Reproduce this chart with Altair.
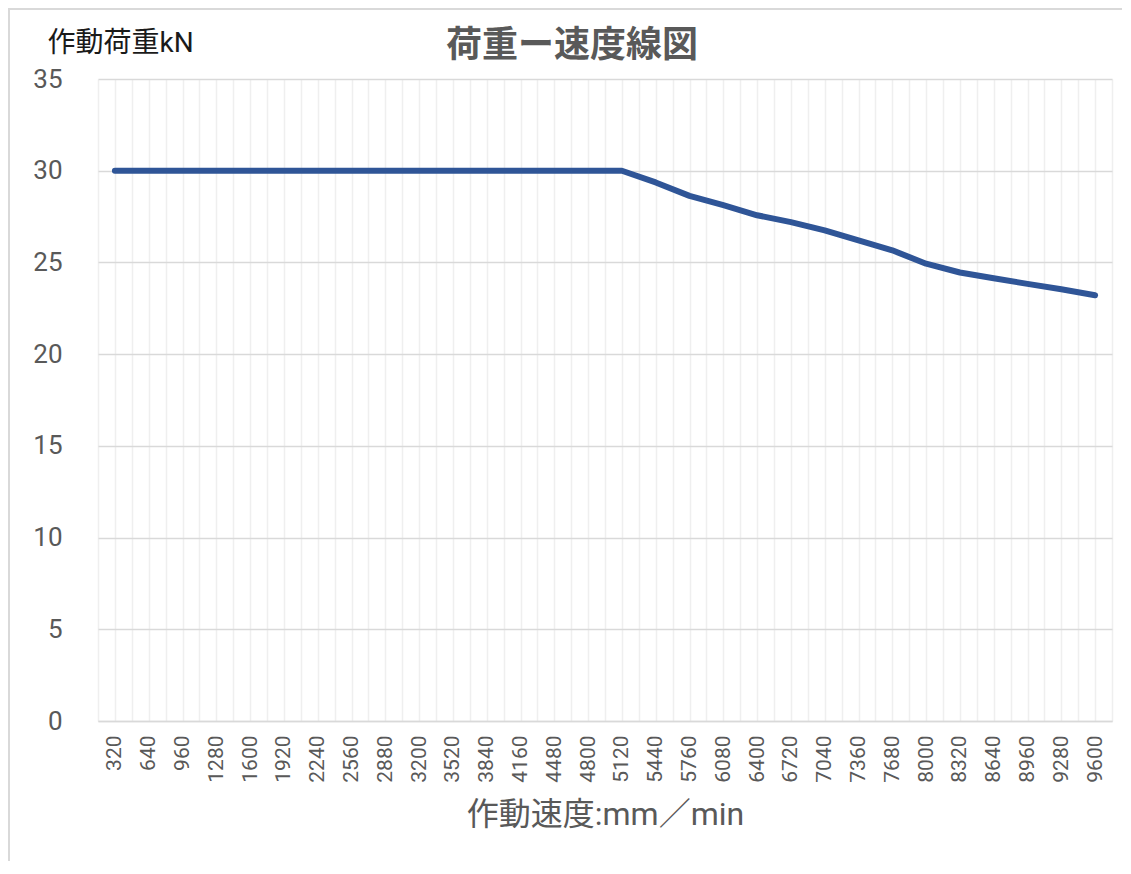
import altair as alt
import pandas as pd

# 作動速度 (mm/min) categories
speeds = [320, 640, 960, 1280, 1600, 1920, 2240, 2560, 2880, 3200,
          3520, 3840, 4160, 4480, 4800, 5120, 5440, 5760, 6080, 6400,
          6720, 7040, 7360, 7680, 8000, 8320, 8640, 8960, 9280, 9600]
# 作動荷重 (kN)
loads = [30, 30, 30, 30, 30, 30, 30, 30, 30, 30,
         30, 30, 30, 30, 30, 30, 29.36, 28.63, 28.12, 27.57,
         27.2, 26.75, 26.2, 25.66, 24.93, 24.45, 24.14, 23.83, 23.54, 23.21]
y_ticks = [0, 5, 10, 15, 20, 25, 30, 35]
chart_title = "荷重ー速度線図"

df = pd.DataFrame({"speed": speeds, "load": loads})

step = speeds[1] - speeds[0]
x_min = speeds[0] - step / 2
x_max = speeds[-1] + step / 2
grid_vals = [x_min + step / 2 * k for k in range(0, 2 * len(speeds) + 1)]

FONT = "Roboto, 'Noto Sans CJK JP', sans-serif"
W, H = 1014, 642
PAD = {"left": 90, "top": 71, "right": 10, "bottom": 140}

line = alt.Chart(df).mark_line(
    color="#2F5597", strokeWidth=6, strokeCap="round", strokeJoin="round"
).encode(
    x=alt.X(
        "speed:Q",
        scale=alt.Scale(domain=[x_min, x_max], nice=False, zero=False),
        axis=alt.Axis(
            values=grid_vals,
            format="d",
            labelExpr="datum.value % 320 === 0 ? datum.label : ''",
            labelAngle=270,
            labelFontSize=21,
            labelColor="#595959",
            labelFont=FONT,
            labelPadding=14,
            labelOverlap=False,
            labelFlush=False,
            labelBound=False,
            ticks=False,
            domain=True,
            domainColor="#d9d9d9",
            domainWidth=1.5,
            grid=True,
            gridColor="#efefef",
            gridWidth=1.5,
            title="作動速度:mm／min",
            titleFontSize=32,
            titleFontWeight="normal",
            titleColor="#595959",
            titleFont=FONT,
            titleX=W / 2,
            titleY=93,
            titleBaseline="middle",
            titleAlign="center",
        ),
    ),
    y=alt.Y(
        "load:Q",
        scale=alt.Scale(domain=[0, 35], nice=False),
        axis=alt.Axis(
            values=y_ticks,
            labelFontSize=26,
            labelColor="#595959",
            labelFont=FONT,
            labelPadding=36,
            ticks=False,
            domain=False,
            grid=True,
            gridColor="#d9d9d9",
            gridWidth=1.5,
            title="作動荷重kN",
            titleAngle=0,
            titleFontSize=28,
            titleFontWeight="normal",
            titleColor="#1a1a1a",
            titleFont=FONT,
            titleAlign="left",
            titleBaseline="middle",
            titleX=-51,
            titleY=-36,
        ),
    ),
)

one = pd.DataFrame({"a": [0]})

border = alt.Chart(one).mark_rect(
    fill=None, stroke="#d9d9d9", strokeWidth=2
).encode(
    x=alt.value(-89), x2=alt.value(W + 60),
    y=alt.value(-70), y2=alt.value(H + 200),
)

title = alt.Chart(one).mark_text(
    text=chart_title,
    fontSize=36,
    fontWeight="bold",
    color="#595959",
    font=FONT,
    align="center",
    baseline="middle",
).encode(
    x=alt.value(W / 2 - 33),
    y=alt.value(-33),
)

chart = alt.layer(border, line, title).properties(
    width=W,
    height=H,
    padding=PAD,
    autosize=alt.AutoSizeParams(type="none"),
).configure_view(stroke=None)

chart.save("out.html", embed_options={"renderer": "svg", "actions": False})
